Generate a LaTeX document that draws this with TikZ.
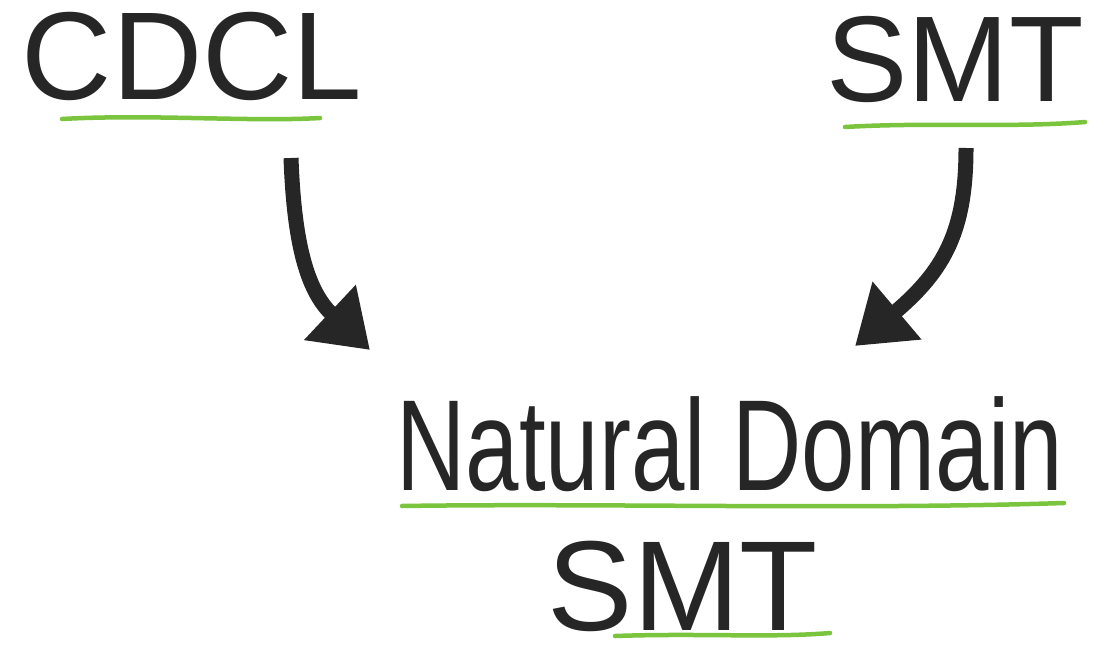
\documentclass[tikz,border=0pt]{standalone}
\usepackage{fontspec}
\setmainfont{Liberation Sans}
\usetikzlibrary{arrows.meta}
\definecolor{ulgreen}{RGB}{122,196,62}
\definecolor{ink}{RGB}{38,38,38}
\tikzset{
  word/.style={anchor=base, inner sep=0pt, outer sep=0pt, text=ink},
  uline/.style={draw=ulgreen, line width=4.5pt, line cap=round},
  bigarrow/.style={draw=ink, line width=15pt, -{Triangle[length=55pt,width=72pt]}},
}
\begin{document}
\begin{tikzpicture}[x=1pt,y=-1pt]
\useasboundingbox (0,0) rectangle (1115,655);
\node[word, font=\fontsize{125}{130}\selectfont] (cdcl) at (192,100) {CDCL};
\node[word, font=\fontsize{122}{130}\selectfont] (smt1) at (955,102) {SMT};
\node[word, font=\fontsize{96}{100}\selectfont, yscale=1.35, transform shape] (nd) at (730,490) {Natural Domain};
\node[word, font=\fontsize{128}{130}\selectfont] (smt2) at (683,630) {SMT};

\draw[uline] (62,119) .. controls (150,114) and (250,122) .. (320,118);
\draw[uline] (845,127) .. controls (930,122) and (1010,128) .. (1085,122);
\draw[uline] (402,506) .. controls (600,503) and (850,510) .. (1064,503);
\draw[uline] (615,636) .. controls (700,633) and (770,638) .. (830,633);

\coordinate (a1s) at (291,158);
\coordinate (a1e) at (370,350);
\coordinate (a2s) at (966,148);
\coordinate (a2e) at (855,346);
\draw[bigarrow] (a1s) .. controls (294,240) and (306,290) .. (a1e);
\draw[bigarrow] (a2s) .. controls (966,230) and (945,270) .. (a2e);
\end{tikzpicture}
\end{document}
